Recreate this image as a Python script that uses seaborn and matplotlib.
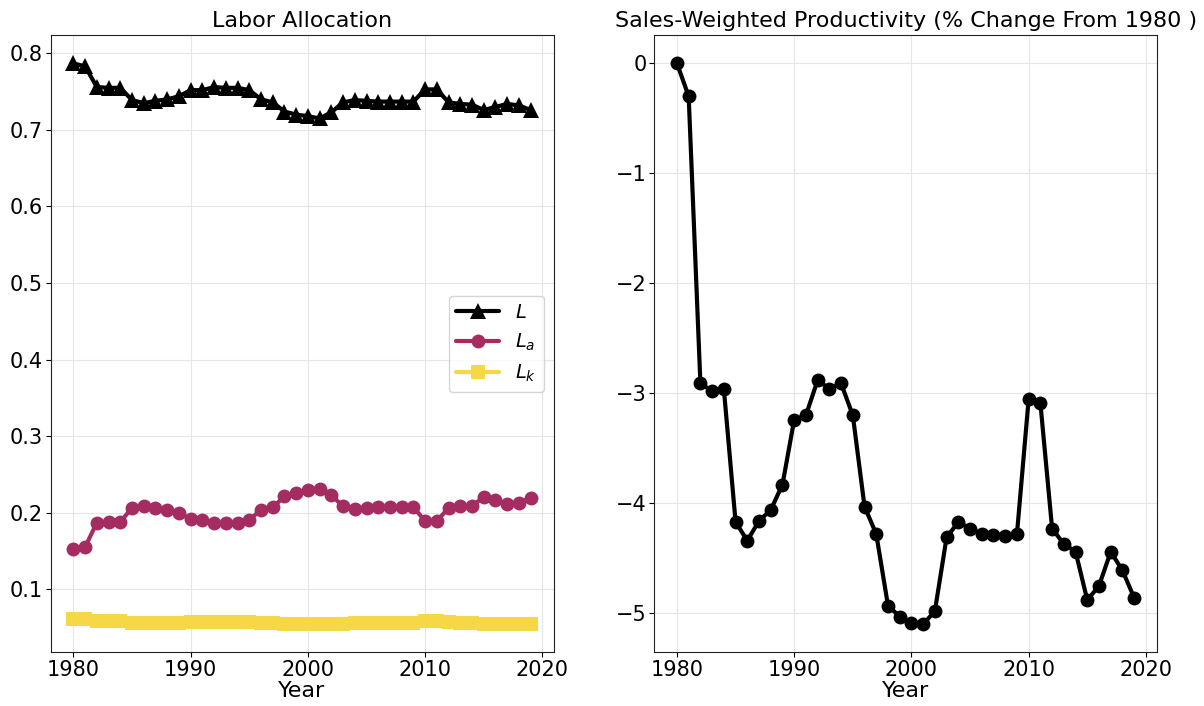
import numpy as np
import pandas as pd
import matplotlib
matplotlib.use("Agg")
import matplotlib.pyplot as plt
import seaborn as sns

years = list(range(1980, 2020))

labor_total = [
    0.787, 0.783, 0.756, 0.755, 0.755, 0.739, 0.735, 0.738, 0.740, 0.744,
    0.752, 0.752, 0.756, 0.755, 0.755, 0.752, 0.740, 0.736, 0.724, 0.720,
    0.718, 0.715, 0.723, 0.736, 0.739, 0.738, 0.737, 0.737, 0.737, 0.737,
    0.753, 0.753, 0.736, 0.734, 0.733, 0.726, 0.730, 0.734, 0.732, 0.726,
]
labor_a = [
    0.153, 0.155, 0.187, 0.188, 0.188, 0.206, 0.208, 0.206, 0.204, 0.200,
    0.191, 0.190, 0.186, 0.187, 0.187, 0.190, 0.204, 0.207, 0.221, 0.226,
    0.229, 0.231, 0.223, 0.208, 0.205, 0.206, 0.207, 0.207, 0.207, 0.207,
    0.189, 0.189, 0.206, 0.208, 0.209, 0.220, 0.216, 0.211, 0.213, 0.219,
]
labor_k = [
    0.061, 0.061, 0.058, 0.058, 0.058, 0.056, 0.056, 0.056, 0.056, 0.056,
    0.057, 0.057, 0.057, 0.057, 0.057, 0.057, 0.056, 0.056, 0.055, 0.054,
    0.054, 0.054, 0.054, 0.055, 0.056, 0.056, 0.056, 0.056, 0.056, 0.056,
    0.058, 0.058, 0.057, 0.056, 0.056, 0.055, 0.055, 0.055, 0.055, 0.055,
]
productivity = [
    0.00, -0.30, -2.91, -2.98, -2.96, -4.17, -4.34, -4.16, -4.06, -3.83,
    -3.24, -3.20, -2.88, -2.96, -2.91, -3.20, -4.03, -4.28, -4.93, -5.03,
    -5.09, -5.10, -4.98, -4.31, -4.17, -4.23, -4.28, -4.29, -4.30, -4.28,
    -3.05, -3.09, -4.23, -4.37, -4.44, -4.88, -4.75, -4.44, -4.61, -4.86,
]

sns.set_style("whitegrid", {
    "axes.edgecolor": "#222222",
    "grid.color": "#e6e6e6",
    "text.color": "black",
    "axes.labelcolor": "black",
    "xtick.color": "black",
    "ytick.color": "black",
    "xtick.bottom": True,
    "ytick.left": True,
})
plt.rcParams["font.family"] = ["DejaVu Sans"]
plt.rcParams["font.size"] = 15

alloc = pd.DataFrame({"Year": years, "L": labor_total, "La": labor_a, "Lk": labor_k})
prod = pd.DataFrame({"Year": years, "prod": productivity})

fig, axes = plt.subplots(1, 2, figsize=(12.04, 7.06), dpi=100)
fig.subplots_adjust(left=0.042, right=0.961, top=0.950, bottom=0.076, wspace=0.2)

ax = axes[0]
series = [
    ("L", r"$L$", "black", "^", 11),
    ("La", r"$L_a$", "#a52c60", "o", 10),
    ("Lk", r"$L_k$", "#f6d746", "s", 10),
]
for col, label, color, marker, msize in series:
    sns.lineplot(data=alloc, x="Year", y=col, ax=ax, color=color, marker=marker,
                 markersize=msize, markeredgewidth=0, linewidth=3, label=label)
ax.set_title("Labor Allocation", fontsize=16)
ax.set_xlabel("Year", fontsize=16, labelpad=1)
ax.set_ylabel("")
ax.set_xticks([1980, 1990, 2000, 2010, 2020])
ax.tick_params(labelsize=15, pad=2)
ax.legend(loc="center right", fontsize=14, handlelength=2.2)

ax = axes[1]
sns.lineplot(data=prod, x="Year", y="prod", ax=ax, color="black", marker="o",
             markersize=10, markeredgewidth=0, linewidth=3)
ax.set_title("Sales-Weighted Productivity (% Change From 1980 )", fontsize=16)
ax.set_xlabel("Year", fontsize=16, labelpad=1)
ax.set_ylabel("")
ax.set_xticks([1980, 1990, 2000, 2010, 2020])
ax.tick_params(labelsize=15, pad=2)

fig.savefig("out.png", dpi=100)
